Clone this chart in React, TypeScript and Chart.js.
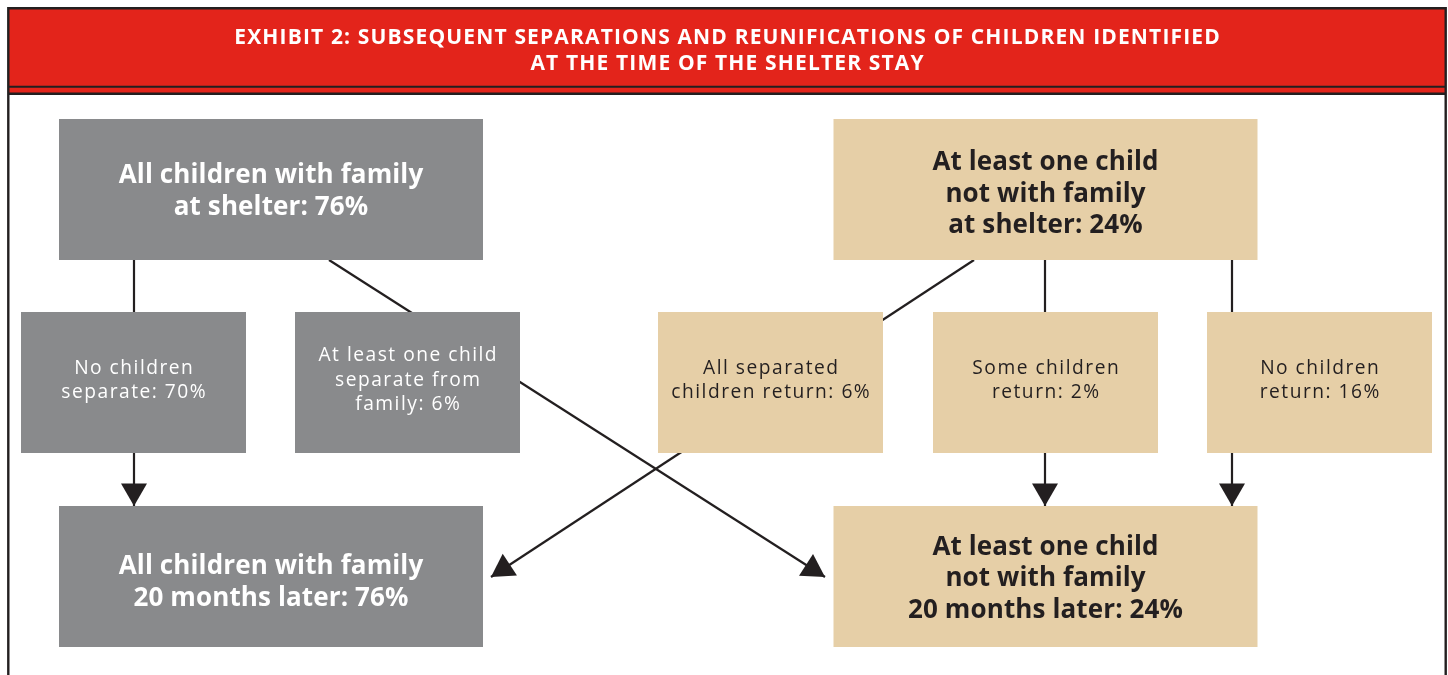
import React, { useEffect, useRef } from "react";
import { Chart, registerables } from "chart.js";

Chart.register(...registerables);

// ---- Data ----
const titleLines = [
  "EXHIBIT 2: SUBSEQUENT SEPARATIONS AND REUNIFICATIONS OF CHILDREN IDENTIFIED",
  "AT THE TIME OF THE SHELTER STAY",
];

// nodes of the flow (share of families, %)
const nodeShares = [76, 24, 70, 6, 6, 2, 16, 76, 24];
const nodeLabels = [
  ["All children with family", "at shelter: {v}%"],
  ["At least one child", "not with family", "at shelter: {v}%"],
  ["No children", "separate: {v}%"],
  ["At least one child", "separate from", "family: {v}%"],
  ["All separated", "children return: {v}%"],
  ["Some children", "return: {v}%"],
  ["No children", "return: {v}%"],
  ["All children with family", "20 months later: {v}%"],
  ["At least one child", "not with family", "20 months later: {v}%"],
];
const nodeGroup = ["with", "without", "with", "with", "without", "without", "without", "with", "without"];
const nodeStage = [0, 0, 1, 1, 1, 1, 1, 2, 2];
// node centres, in the diagram's coordinate space
const nodeX = [271, 1045.5, 133.5, 407.5, 770.5, 1045.5, 1319.5, 271, 1045.5];
const nodeTextY = [189.5, 192, 382.5, 382.5, 382.5, 382.5, 382.5, 580.5, 576.5];
const stageY = [189.5, 382.5, 576.5];
const stageBig = [true, false, true];

// connectors: start / end points and whether they end in an arrow
const edgeX0 = [134, 329, 134, 974, 1045, 1232, 1045, 1232];
const edgeY0 = [260, 260, 453, 260, 260, 260, 453, 453];
const edgeX1 = [134, 825, 134, 491, 1045, 1232, 1045, 1232];
const edgeY1 = [312, 577, 506, 577, 312, 312, 506, 506];
const edgeArrow = [false, true, true, true, false, false, true, true];

// ---- Styles ----
const RED = "#E3241B";
const DARK = "#231F20";
const GRAY = "#898A8C";
const TAN = "#E6CFA7";
const FONT = "'Open Sans', 'Noto Sans', sans-serif";
const BIG_W = 424;
const SMALL_W = 225;
const BOX_H = 141;

export default function App() {
  const ref = useRef<HTMLCanvasElement | null>(null);

  useEffect(() => {
    const canvas = ref.current;
    if (!canvas) return;

    const px = (chart: any, x: number) => chart.scales.x.getPixelForValue(x);
    const py = (chart: any, y: number) => chart.scales.y.getPixelForValue(y);

    const drawText = (ctx: any, s: string, x: number, y: number, spacing: number) => {
      ctx.letterSpacing = `${spacing}px`;
      ctx.fillText(s, x + spacing / 2, y);
      ctx.letterSpacing = "0px";
    };

    const framePlugin = {
      id: "frame",
      beforeDatasetsDraw(chart: any) {
        const ctx = chart.ctx;
        ctx.save();
        ctx.fillStyle = "#ffffff";
        ctx.fillRect(0, 0, chart.width, chart.height);
        const l = px(chart, 8.3), r = px(chart, 1445.7);
        ctx.fillStyle = RED;
        ctx.fillRect(l, py(chart, 8.3), r - l, py(chart, 93.8) - py(chart, 8.3));
        ctx.strokeStyle = DARK;
        ctx.lineWidth = 2;
        ctx.beginPath();
        ctx.moveTo(l, py(chart, 86.7));
        ctx.lineTo(r, py(chart, 86.7));
        ctx.stroke();
        ctx.lineWidth = 2.4;
        ctx.beginPath();
        ctx.moveTo(l, py(chart, 93.8));
        ctx.lineTo(r, py(chart, 93.8));
        ctx.stroke();
        ctx.lineWidth = 2.4;
        ctx.beginPath();
        ctx.moveTo(l, chart.height + 5);
        ctx.lineTo(l, py(chart, 8.3));
        ctx.lineTo(r, py(chart, 8.3));
        ctx.lineTo(r, chart.height + 5);
        ctx.stroke();
        ctx.fillStyle = "#ffffff";
        ctx.font = `700 21px ${FONT}`;
        ctx.textAlign = "center";
        ctx.textBaseline = "alphabetic";
        titleLines.forEach((t, i) => {
          drawText(ctx, t, px(chart, 727), py(chart, 43.5 + i * 26.7), 1.15);
        });
        ctx.restore();
      },
      afterDatasetsDraw(chart: any) {
        const ctx = chart.ctx;
        ctx.save();
        nodeShares.forEach((v, i) => {
          const big = stageBig[nodeStage[i]];
          const w = big ? BIG_W : SMALL_W;
          const cx = nodeX[i];
          const cy = stageY[nodeStage[i]];
          const x0 = px(chart, cx - w / 2), x1 = px(chart, cx + w / 2);
          const y0 = py(chart, cy - BOX_H / 2), y1 = py(chart, cy + BOX_H / 2);
          ctx.fillStyle = nodeGroup[i] === "with" ? GRAY : TAN;
          ctx.fillRect(x0, y0, x1 - x0, y1 - y0);
          const lines = nodeLabels[i].map((s) => s.replace("{v}", String(v)));
          const lh = big ? 31.5 : 24.5;
          const shift = big ? 9.5 : 3.3;
          ctx.font = big ? `700 26px ${FONT}` : `400 19.2px ${FONT}`;
          ctx.fillStyle = nodeGroup[i] === "with" ? "#ffffff" : DARK;
          ctx.textAlign = "center";
          ctx.textBaseline = "alphabetic";
          const n = lines.length;
          const ty = nodeTextY[i];
          lines.forEach((s, k) => {
            const by = ty + (k - (n - 1) / 2) * lh + shift;
            drawText(ctx, s, px(chart, cx), py(chart, by), big ? 0.12 : 1.5);
          });
        });
        ctx.fillStyle = DARK;
        edgeArrow.forEach((a, i) => {
          if (!a) return;
          const tx = px(chart, edgeX1[i]), ty = py(chart, edgeY1[i]);
          const sx = px(chart, edgeX0[i]), sy = py(chart, edgeY0[i]);
          const dx = tx - sx, dy = ty - sy;
          const len = Math.hypot(dx, dy);
          const ux = dx / len, uy = dy / len;
          const side = 26;
          const h = side * 0.866;
          const bx = tx - ux * h, by = ty - uy * h;
          ctx.beginPath();
          ctx.moveTo(tx, ty);
          ctx.lineTo(bx - (uy * side) / 2, by + (ux * side) / 2);
          ctx.lineTo(bx + (uy * side) / 2, by - (ux * side) / 2);
          ctx.closePath();
          ctx.fill();
        });
        ctx.restore();
      },
    };

    const datasets = edgeX0.map((x0, i) => ({
      type: "line" as const,
      data: [
        { x: x0, y: edgeY0[i] },
        { x: edgeX1[i], y: edgeY1[i] },
      ],
      borderColor: DARK,
      borderWidth: 2.2,
      pointRadius: 0,
      showLine: true,
      fill: false,
      tension: 0,
    }));

    const chart = new Chart(canvas, {
      type: "scatter",
      data: { datasets },
      options: {
        animation: false,
        responsive: false,
        devicePixelRatio: 1,
        layout: { padding: 0 },
        plugins: { legend: { display: false }, tooltip: { enabled: false }, title: { display: false } },
        scales: {
          x: { type: "linear", min: 0, max: 1448, display: false },
          y: { type: "linear", min: 0, max: 675, reverse: true, display: false },
        },
        events: [],
      },
      plugins: [framePlugin],
    });
    return () => chart.destroy();
  }, []);

  return (
    <div style={{ position: "absolute", left: 0, top: 0, width: 1448, height: 675, background: "#fff" }}>
      <canvas ref={ref} width={1448} height={675} style={{ display: "block" }} />
    </div>
  );
}
